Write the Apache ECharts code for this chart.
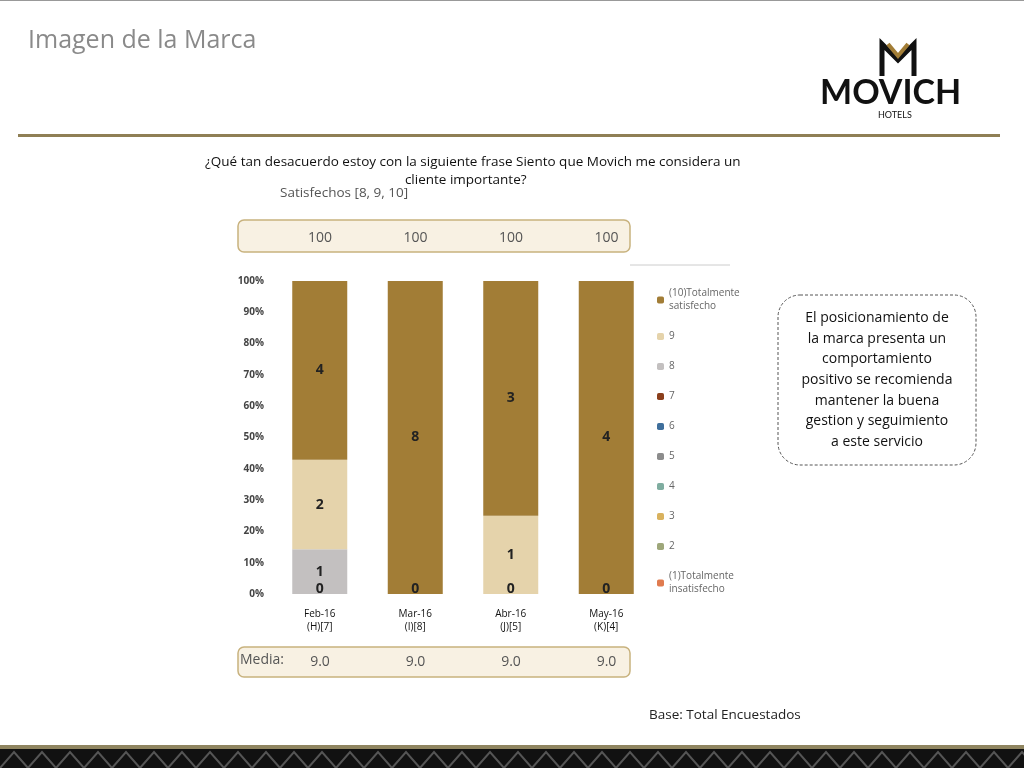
<!DOCTYPE html>
<html lang="es">
<head>
<meta charset="UTF-8">
<title>Imagen de la Marca</title>
<script src="https://cdn.jsdelivr.net/npm/echarts@6/dist/echarts.min.js"></script>
<style>body{margin:0}#main{width:1024px;height:768px}</style>
</head>
<body>
<div id="main"></div>
<script>
var months = ['Feb-16\n(H)[7]', 'Mar-16\n(I)[8]', 'Abr-16\n(J)[5]', 'May-16\n(K)[4]'];
var seriesNames = ['(1)Totalmente\ninsatisfecho', '2', '3', '4', '5', '6', '7', '8', '9', '(10)Totalmente\nsatisfecho'];
var colors = ['#e07b4f', '#9ea77a', '#d9b25e', '#7fada0', '#8c8c8c', '#3f6f9c', '#8b3f1c', '#c3c0c0', '#e5d3ab', '#a27d36'];
// counts per score (rows: 1..10), columns: months
var counts = [
    [0, 0, 0, 0],
    [0, 0, 0, 0],
    [0, 0, 0, 0],
    [0, 0, 0, 0],
    [0, 0, 0, 0],
    [0, 0, 0, 0],
    [0, 0, 0, 0],
    [1, 0, 0, 0],
    [2, 0, 1, 0],
    [4, 8, 3, 4]
];
var satisfechos = ['100', '100', '100', '100'];
var media = ['9.0', '9.0', '9.0', '9.0'];

var totals = months.map(function (m, j) {
    var t = 0;
    counts.forEach(function (r) { t += r[j]; });
    return t;
});

var myChart = echarts.init(document.getElementById('main'));

var series = seriesNames.map(function (name, i) {
    return {
        name: name,
        type: 'bar',
        stack: 'total',
        barWidth: 55,
        itemStyle: { color: colors[i] },
        label: {
            show: i >= 6,
            position: i == 6 ? 'bottom' : 'inside',
            distance: -12,
            color: '#222',
            fontSize: 14,
            fontWeight: 'bold',
            formatter: function (p) {
                var c = counts[i][p.dataIndex];
                if (i == 6) return '0';
                return c > 0 ? String(c) : '';
            }
        },
        data: counts[i].map(function (c, j) { return c / totals[j] * 100; })
    };
});
series[9].label.distance = 5;
series[8].label.distance = 5;
series[7].label.distance = 5;

var graphics = [
    { type: 'text', left: 28, top: 28, style: { text: 'Imagen de la Marca', fontSize: 25, fill: '#8a8a8a', fontFamily: 'Open Sans' } },
    { type: 'text', left: 820, top: 76, style: { text: 'MOVICH', fontSize: 34, fontWeight: 'bold', fill: '#111', fontFamily: 'Lato' } },
    { type: 'text', left: 878, top: 111, style: { text: 'HOTELS', fontSize: 9, fill: '#111', fontFamily: 'Lato' } },
    { type: 'polyline', shape: { points: [[882, 76], [882, 44], [898, 60], [914, 44], [914, 76]] }, style: { stroke: '#111', lineWidth: 5, fill: null } },
    { type: 'polyline', shape: { points: [[888, 44], [898, 56], [908, 44]] }, style: { stroke: '#a27d36', lineWidth: 4, fill: null } },
    { type: 'rect', shape: { x: 0, y: 0, width: 1024, height: 1 }, style: { fill: '#999' } },
    { type: 'rect', shape: { x: 18, y: 134, width: 982, height: 3 }, style: { fill: '#8f7f55' } },
    { type: 'rect', shape: { x: 0, y: 745, width: 1024, height: 4 }, style: { fill: '#8f8560' } },
    { type: 'rect', shape: { x: 0, y: 749, width: 1024, height: 19 }, style: { fill: '#111' } },
    { type: 'text', left: 205, top: 153, style: { text: '¿Qué tan desacuerdo estoy con la siguiente frase Siento que Movich me considera un\n                                                         cliente importante?', fontSize: 13.5, fill: '#111', lineHeight: 18, fontFamily: 'Open Sans' } },
    { type: 'text', left: 280, top: 186, style: { text: 'Satisfechos [8, 9, 10]', fontSize: 13.5, fill: '#555', fontFamily: 'Open Sans' } },
    { type: 'rect', shape: { x: 238, y: 220, width: 392, height: 32, r: 6 }, style: { fill: '#f8f1e3', stroke: '#c8b27e', lineWidth: 1.5 } },
    { type: 'line', shape: { x1: 630, y1: 265, x2: 730, y2: 265 }, style: { stroke: '#ccc', lineWidth: 1 } },
    { type: 'rect', shape: { x: 238, y: 647, width: 392, height: 30, r: 6 }, style: { fill: '#f8f1e3', stroke: '#c8b27e', lineWidth: 1.5 } },
    { type: 'text', left: 240, top: 653, style: { text: 'Media:', fontSize: 14, fill: '#555', fontFamily: 'Open Sans' } },
    { type: 'rect', shape: { x: 778, y: 295, width: 198, height: 170, r: 22 }, style: { fill: '#fff', stroke: '#555', lineWidth: 1, lineDash: [3, 2] } },
    { type: 'text', x: 877, y: 380, style: { text: 'El posicionamiento de\nla marca presenta un\ncomportamiento\npositivo se recomienda\nmantener la buena\ngestion y seguimiento\na este servicio', fontSize: 14, lineHeight: 20.7, align: 'center', verticalAlign: 'middle', fill: '#111', fontFamily: 'Open Sans' } },
    { type: 'text', left: 649, top: 708, style: { text: 'Base: Total Encuestados', fontSize: 13.5, fill: '#222', fontFamily: 'Open Sans' } }
];
// triangle pattern at bottom
for (var k = 0; k < 1024; k += 28) {
    graphics.push({ type: 'polyline', shape: { points: [[k, 768], [k + 14, 752], [k + 28, 768]] }, style: { stroke: '#555', lineWidth: 2, fill: null } });
}
satisfechos.forEach(function (v, j) {
    graphics.push({ type: 'text', x: 320 + j * 95.5, y: 238, style: { text: v, fontSize: 14, fill: '#555', align: 'center', verticalAlign: 'middle', fontFamily: 'Open Sans' } });
});
media.forEach(function (v, j) {
    graphics.push({ type: 'text', x: 320 + j * 95.5, y: 662, style: { text: v, fontSize: 14, fill: '#555', align: 'center', verticalAlign: 'middle', fontFamily: 'Open Sans' } });
});

var option = {
    animation: false,
    textStyle: { fontFamily: 'Open Sans' },
    grid: { left: 272, top: 281, width: 382, height: 313 },
    legend: {
        orient: 'vertical',
        left: 652,
        top: 282,
        itemWidth: 7,
        itemHeight: 7,
        itemGap: 17,
        textStyle: { fontSize: 10, color: '#666', lineHeight: 13 },
        data: seriesNames.slice().reverse()
    },
    xAxis: {
        type: 'category',
        data: months,
        axisLine: { show: false },
        axisTick: { show: false },
        axisLabel: { fontSize: 10, color: '#111', lineHeight: 13, margin: 14 }
    },
    yAxis: {
        type: 'value',
        min: 0,
        max: 100,
        interval: 10,
        splitLine: { show: false },
        axisLabel: { fontSize: 10, fontWeight: 'bold', color: '#444', formatter: '{value}%', margin: 8 }
    },
    series: series,
    graphic: graphics
};

myChart.setOption(option);
</script>
</body>
</html>
